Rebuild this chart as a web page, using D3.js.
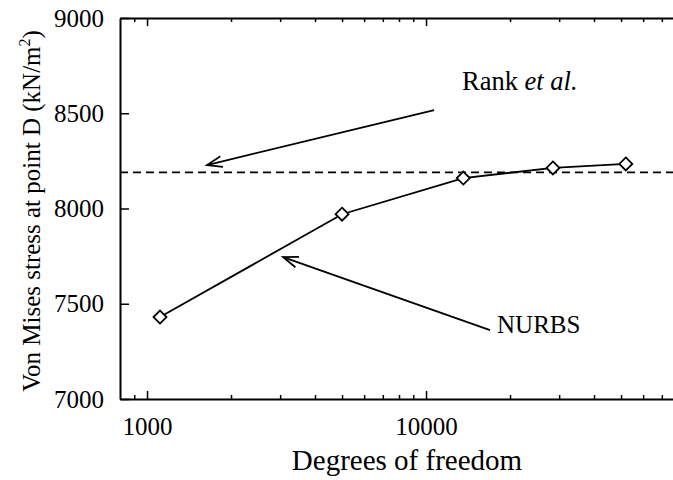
<!DOCTYPE html>
<html>
<head>
<meta charset="utf-8">
<script src="https://cdn.jsdelivr.net/npm/d3@7"></script>
<style>
  html, body { margin: 0; padding: 0; background: #fff; }
  svg { display: block; font-family: "Liberation Serif", "Times New Roman", serif; }
</style>
</head>
<body>
<svg id="chart" width="673" height="480"></svg>
<script>
// ---- data ----
const degreesOfFreedom = [1113, 5000, 13600, 28500, 52000];
const nurbsStress = [7430, 7970, 8160, 8213, 8234];
const rankReference = 8190;
const xMajorTicks = [1000, 10000];
const xMinorTicks = [900, 2000, 3000, 4000, 5000, 6000, 7000, 8000, 9000, 20000, 30000, 40000, 50000, 60000, 70000];
const yTicks = [7000, 7500, 8000, 8500, 9000];
const xTitle = "Degrees of freedom";
const yTitle = "Von Mises stress at point D (kN/m";
// annotation anchors in data units: [textX, textY], arrow from -> to
const rankLabel = { x: 13460, y: 8622 };
const rankArrow = { from: [10690, 8517], to: [1641, 8228] };
const nurbsLabel = { x: 17970, y: 7347 };
const nurbsArrow = { from: [16950, 7362], to: [3073, 7745] };

// ---- layout ----
const svg = d3.select("#chart");
const mLeft = 120, mRight = 678, mTop = 18, mBottom = 399;
const x = d3.scaleLog().domain([800, 80000]).range([mLeft, mRight]);
const y = d3.scaleLinear().domain([7000, 9000]).range([mBottom, mTop]);

// bottom axis (major)
const gB = svg.append("g").attr("transform", `translate(0,${mBottom})`)
  .call(d3.axisBottom(x).tickValues(xMajorTicks).tickFormat(d3.format("d"))
    .tickSizeInner(-8).tickSizeOuter(0).tickPadding(18));
gB.select(".domain").attr("stroke-width", 2);
gB.selectAll(".tick line").attr("stroke-width", 1.5);
gB.selectAll("text").attr("font-size", 25).attr("font-family", "Liberation Serif").attr("fill", "#000");
// bottom minor
svg.append("g").attr("transform", `translate(0,${mBottom})`)
  .call(d3.axisBottom(x).tickValues(xMinorTicks).tickFormat("").tickSizeInner(-4).tickSizeOuter(0))
  .call(g => g.select(".domain").remove())
  .selectAll(".tick line").attr("stroke-width", 1.5);
// top axis
const gT = svg.append("g").attr("transform", `translate(0,${mTop})`)
  .call(d3.axisTop(x).tickValues(xMajorTicks).tickFormat("").tickSizeInner(-8).tickSizeOuter(0));
gT.select(".domain").attr("stroke-width", 2);
gT.selectAll(".tick line").attr("stroke-width", 1.5);
svg.append("g").attr("transform", `translate(0,${mTop})`)
  .call(d3.axisTop(x).tickValues(xMinorTicks).tickFormat("").tickSizeInner(-4).tickSizeOuter(0))
  .call(g => g.select(".domain").remove())
  .selectAll(".tick line").attr("stroke-width", 1.5);
// left axis
const gL = svg.append("g").attr("transform", `translate(${mLeft},0)`)
  .call(d3.axisLeft(y).tickValues(yTicks).tickFormat(d3.format("d"))
    .tickSizeInner(-9).tickSizeOuter(0).tickPadding(16));
gL.select(".domain").attr("stroke-width", 2);
gL.selectAll(".tick line").attr("stroke-width", 1.5);
gL.selectAll("text").attr("font-size", 25).attr("font-family", "Liberation Serif").attr("fill", "#000");

// reference dashed line
svg.append("line")
  .attr("x1", x(800)).attr("x2", x(80000))
  .attr("y1", y(rankReference)).attr("y2", y(rankReference))
  .attr("stroke", "#000").attr("stroke-width", 1.8).attr("stroke-dasharray", "8,5");

// NURBS line
const pts = degreesOfFreedom.map((d, i) => [d, nurbsStress[i]]);
svg.append("path")
  .attr("d", d3.line().x(d => x(d[0])).y(d => y(d[1]))(pts))
  .attr("fill", "none").attr("stroke", "#000").attr("stroke-width", 1.8);
svg.selectAll(".mk").data(pts).enter().append("path")
  .attr("class", "mk")
  .attr("transform", d => `translate(${x(d[0])},${y(d[1])})`)
  .attr("d", "M0,-6.5L6.5,0L0,6.5L-6.5,0Z")
  .attr("fill", "#fff").attr("stroke", "#000").attr("stroke-width", 1.8);

// arrows
function arrow(a) {
  const x1 = x(a.from[0]), y1 = y(a.from[1]), x2 = x(a.to[0]), y2 = y(a.to[1]);
  const ang = Math.atan2(y1 - y2, x1 - x2);
  const L = 16, spread = 0.35;
  const g = svg.append("g").attr("stroke", "#000").attr("stroke-width", 1.8).attr("fill", "none");
  g.append("line").attr("x1", x1).attr("y1", y1).attr("x2", x2).attr("y2", y2);
  g.append("path").attr("d",
    `M${x2 + L * Math.cos(ang + spread)},${y2 + L * Math.sin(ang + spread)}L${x2},${y2}L${x2 + L * Math.cos(ang - spread)},${y2 + L * Math.sin(ang - spread)}`);
}
arrow(rankArrow);
arrow(nurbsArrow);

// labels
const t1 = svg.append("text").attr("x", x(rankLabel.x)).attr("y", y(rankLabel.y))
  .attr("font-size", 26.5).attr("fill", "#000");
t1.append("tspan").text("Rank ");
t1.append("tspan").attr("font-style", "italic").text("et al.");
svg.append("text").attr("x", x(nurbsLabel.x)).attr("y", y(nurbsLabel.y))
  .attr("font-size", 25).attr("fill", "#000").text("NURBS");

// axis titles
svg.append("text").attr("x", 407).attr("y", 470).attr("text-anchor", "middle")
  .attr("font-size", 29).attr("fill", "#000").text(xTitle);
const yt = svg.append("text").attr("transform", "translate(40,211) rotate(-90)")
  .attr("text-anchor", "middle").attr("font-size", 25).attr("fill", "#000");
yt.append("tspan").text(yTitle);
yt.append("tspan").attr("font-size", 16).attr("dy", -10).text("2");
yt.append("tspan").attr("dy", 10).text(")");
</script>
</body>
</html>
